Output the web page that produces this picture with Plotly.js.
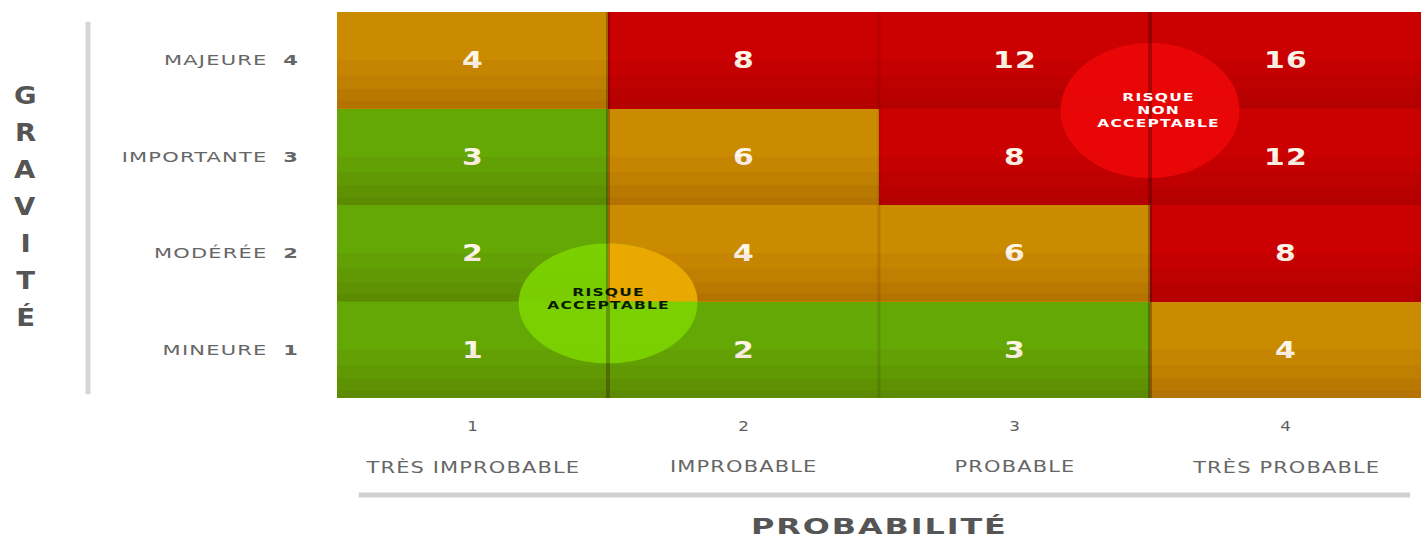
<!DOCTYPE html>
<html>
<head>
<meta charset="utf-8">
<script src="https://cdn.plot.ly/plotly-3.0.1.min.js"></script>
<style>
html,body{margin:0;padding:0;background:#fff;}
#chart{width:1422px;height:548px;}
</style>
</head>
<body>
<div id="chart"></div>
<script>
// ---- data ----
const probLevels = [1, 2, 3, 4];
const probLabels = ['TRÈS IMPROBABLE', 'IMPROBABLE', 'PROBABLE', 'TRÈS PROBABLE'];
const gravLevels = [1, 2, 3, 4];
const gravLabels = ['MINEURE', 'MODÉRÉE', 'IMPORTANTE', 'MAJEURE'];
const rowMineure    = [1, 2, 3, 4];
const rowModeree    = [2, 4, 6, 8];
const rowImportante = [3, 6, 8, 12];
const rowMajeure    = [4, 8, 12, 16];
const axisTitleY = 'GRAVITÉ';
const axisTitleX = 'PROBABILITÉ';
const zoneAcceptable = 'RISQUE<br>ACCEPTABLE';
const zoneNonAcceptable = 'RISQUE<br>NON<br>ACCEPTABLE';

const z = [rowMineure, rowModeree, rowImportante, rowMajeure];

const GREEN = '#64a806', ORANGE = '#cb8b00', RED = '#cb0000';
const colorscale = [
  [0, GREEN], [0.16, GREEN], [0.16, ORANGE], [0.4, ORANGE], [0.4, RED], [1, RED]
];
const SANS = 'DejaVu Sans, Verdana, sans-serif';

const heat = {
  type: 'heatmap',
  x: probLevels, y: gravLevels, z: z,
  zmin: 1, zmax: 16,
  colorscale: colorscale,
  showscale: false,
  hoverinfo: 'skip',
  texttemplate: '<b>%{z}</b>',
  textfont: {family: SANS, size: 23, color: '#fff6ea'}
};

const shapes = [];
// simulated vertical shading: darker towards the bottom of each row
gravLevels.forEach(function (g) {
  [0.5, 0.34, 0.2, 0.08].forEach(function (h) {
    shapes.push({type: 'rect', xref: 'x', yref: 'y', layer: 'above',
      x0: 0.5, x1: 4.5, y0: g - 0.5, y1: g - 0.5 + h,
      fillcolor: 'rgba(60,0,0,0.045)', line: {width: 0}});
  });
});

// ellipse helpers (cubic approximations)
function quarter(cx, cy, rx, ry, sx, sy) {
  const k = 0.5523;
  const ax = cx + sx * rx, ay = cy;
  const bx = cx, by = cy + sy * ry;
  return 'M ' + cx + ',' + cy + ' L ' + ax + ',' + ay +
    ' C ' + ax + ',' + (cy + sy * k * ry) + ' ' + (cx + sx * k * rx) + ',' + by + ' ' + bx + ',' + by + ' Z';
}
function ellipse(cx, cy, rx, ry) {
  const k = 0.5523;
  return 'M ' + (cx + rx) + ',' + cy +
    ' C ' + (cx + rx) + ',' + (cy + k * ry) + ' ' + (cx + k * rx) + ',' + (cy + ry) + ' ' + cx + ',' + (cy + ry) +
    ' C ' + (cx - k * rx) + ',' + (cy + ry) + ' ' + (cx - rx) + ',' + (cy + k * ry) + ' ' + (cx - rx) + ',' + cy +
    ' C ' + (cx - rx) + ',' + (cy - k * ry) + ' ' + (cx - k * rx) + ',' + (cy - ry) + ' ' + cx + ',' + (cy - ry) +
    ' C ' + (cx + k * rx) + ',' + (cy - ry) + ' ' + (cx + rx) + ',' + (cy - k * ry) + ' ' + (cx + rx) + ',' + cy + ' Z';
}

// acceptable zone circle (centre between cells)
const acx = 1.5, acy = 1.48, arx = 0.33, ary = 0.62;
shapes.push({type: 'path', xref: 'x', yref: 'y', layer: 'above', path: ellipse(acx, acy, arx, ary),
  fillcolor: 'rgba(124,212,0,0.9)', line: {width: 0}});
shapes.push({type: 'path', xref: 'x', yref: 'y', layer: 'above', path: quarter(acx, 1.5, arx, ary - 0.02, 1, 1),
  fillcolor: 'rgba(238,166,0,0.95)', line: {width: 0}});

// non acceptable zone circle
shapes.push({type: 'path', xref: 'x', yref: 'y', layer: 'above', path: ellipse(3.5, 3.48, 0.33, 0.7),
  fillcolor: 'rgba(236,6,6,0.92)', line: {width: 0}});

// column separators
[[1.5, 'rgba(40,0,0,0.28)', 4], [2.5, 'rgba(40,0,0,0.12)', 3], [3.5, 'rgba(40,0,0,0.3)', 4]].forEach(function (s) {
  shapes.push({type: 'line', xref: 'x', yref: 'y', layer: 'above', x0: s[0], x1: s[0], y0: 0.5, y1: 4.5,
    line: {color: s[1], width: s[2]}});
});

// decorative shadow lines
shapes.push({type: 'line', xref: 'paper', yref: 'paper', x0: -0.2297, x1: -0.2297, y0: 0.01, y1: 0.975,
  line: {color: 'rgba(0,0,0,0.16)', width: 5}});
shapes.push({type: 'line', xref: 'paper', yref: 'paper', x0: 0.02, x1: 0.99, y0: -0.251, y1: -0.251,
  line: {color: 'rgba(0,0,0,0.18)', width: 5}});

const annotations = [];
const widen = [];   // [scaleX, letterSpacing] per annotation
probLabels.forEach(function (lab, i) {
  annotations.push({xref: 'x', yref: 'paper', x: probLevels[i], y: -0.179, yanchor: 'middle', xanchor: 'center',
    text: lab, showarrow: false,
    font: {family: SANS, size: 15, color: '#666'}});
  widen.push([1.4, 0.8]);
});
annotations.push({xref: 'paper', yref: 'paper', x: 0.5, y: -0.334, yanchor: 'middle', xanchor: 'center',
  text: '<b>' + axisTitleX + '</b>', showarrow: false,
  font: {family: SANS, size: 22, color: '#555'}});
widen.push([1.45, 1.3]);
axisTitleY.split('').forEach(function (ch, i) {
  const py = 95 + i * 37;
  annotations.push({xref: 'paper', yref: 'paper', x: (25 - 337) / 1084, y: (398 - py) / 386,
    yanchor: 'middle', xanchor: 'center', text: '<b>' + ch + '</b>',
    showarrow: false, font: {family: SANS, size: 25, color: '#555'}});
  widen.push([1.1, 0]);
});
annotations.push({xref: 'x', yref: 'y', x: 1.5, y: 1.53, text: '<b>' + zoneAcceptable + '</b>', showarrow: false,
  font: {family: SANS, size: 10, color: '#0a1a00'}});
widen.push([1.55, 0.8]);
annotations.push({xref: 'x', yref: 'y', x: 3.53, y: 3.48, text: '<b>' + zoneNonAcceptable + '</b>', showarrow: false,
  font: {family: SANS, size: 10, color: '#ffffff'}});
widen.push([1.55, 0.8]);

const layout = {
  width: 1422, height: 548,
  margin: {l: 337, r: 1, t: 12, b: 150},
  paper_bgcolor: '#ffffff', plot_bgcolor: '#ffffff',
  xaxis: {
    range: [0.5, 4.5], tickvals: probLevels, ticktext: probLevels.map(String),
    showgrid: false, zeroline: false, showline: false, ticks: '', fixedrange: true,
    ticklabelstandoff: 18,
    tickfont: {family: SANS, size: 14, color: '#5e5e5e'}
  },
  yaxis: {
    range: [0.5, 4.5], tickvals: gravLevels,
    ticktext: gravLabels.map(function (l, i) { return l + '&nbsp;&nbsp;<b>' + gravLevels[i] + '</b>'; }),
    showgrid: false, zeroline: false, showline: false, ticks: '', fixedrange: true,
    ticklabelstandoff: 37,
    tickfont: {family: SANS, size: 14, color: '#666'}
  },
  shapes: shapes,
  annotations: annotations,
  showlegend: false
};

function stretch(t, sx, ls) {
  const x = parseFloat(t.getAttribute('x')) || 0;
  const prev = t.getAttribute('transform') || '';
  t.setAttribute('transform', prev + ' translate(' + x + ',0) scale(' + sx + ',1) translate(' + (-x) + ',0)');
  if (ls) t.style.letterSpacing = ls + 'px';
}

Plotly.newPlot('chart', [heat], layout, {displayModeBar: false, staticPlot: true}).then(function (gd) {
  gd.querySelectorAll('.annotation').forEach(function (n, i) {
    const w = widen[i];
    if (w && (w[0] !== 1 || w[1])) {
      n.querySelectorAll('text').forEach(function (t) { stretch(t, w[0], w[1]); });
    }
  });
  gd.querySelectorAll('.ytick text').forEach(function (t) { stretch(t, 1.5, 0.8); });
  gd.querySelectorAll('.xtick text').forEach(function (t) { stretch(t, 1.2, 0); });
  gd.querySelectorAll('.heatmaplayer text').forEach(function (t) { stretch(t, 1.3, 1); });
});
</script>
</body>
</html>
